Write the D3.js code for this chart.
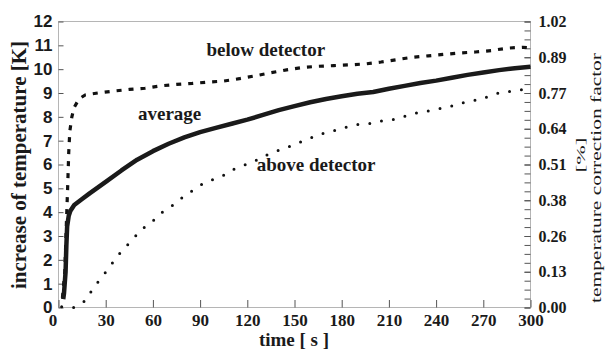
<!DOCTYPE html>
<html>
<head>
<meta charset="utf-8">
<script src="https://cdn.jsdelivr.net/npm/d3@7"></script>
<style>
  body { margin: 0; background: #fff; }
  .axis text { font-family: "Liberation Serif", "Times New Roman", serif; font-weight: bold; font-size: 17px; fill: #1a1a1a; }
  .axis--left text { font-family: "Liberation Sans", Arial, sans-serif; font-size: 17px; }
  .axis line { stroke: #555; }
  .title { font-family: "Liberation Serif", "Times New Roman", serif; font-weight: bold; fill: #1a1a1a; }
  .title.light { font-weight: normal; }
</style>
</head>
<body>
<svg id="chart" width="606" height="351"></svg>
<script>
// time [s] / temperature increase [K]
const avgT = [3, 3.5, 4.5, 5, 5.5, 6.5, 7.5, 10, 15, 20, 30, 40, 50, 60, 70, 80, 90, 100, 110, 120, 130, 140, 150, 160, 170, 180, 190, 200, 210, 220, 230, 240, 250, 260, 270, 280, 290, 300];
const avgV = [0.35, 0.6, 1.5, 2.6, 3.4, 3.85, 4.05, 4.3, 4.55, 4.8, 5.27, 5.75, 6.2, 6.56, 6.87, 7.14, 7.36, 7.54, 7.71, 7.88, 8.08, 8.28, 8.45, 8.61, 8.75, 8.86, 8.97, 9.04, 9.18, 9.3, 9.42, 9.52, 9.64, 9.76, 9.86, 9.96, 10.04, 10.1];

const belowT = [2.5, 4, 5, 5.8, 6.5, 7.2, 8.5, 10, 13, 17, 25, 35, 45, 55, 65, 75, 85, 95, 105, 115, 125, 135, 145, 155, 165, 175, 185, 195, 205, 215, 225, 235, 245, 255, 265, 275, 285, 295, 300];
const belowV = [0.4, 1.5, 3.5, 5.0, 6.5, 7.4, 8.0, 8.4, 8.75, 8.92, 9.0, 9.08, 9.15, 9.2, 9.3, 9.36, 9.4, 9.46, 9.5, 9.6, 9.72, 9.85, 9.97, 10.07, 10.12, 10.15, 10.18, 10.22, 10.3, 10.4, 10.5, 10.56, 10.62, 10.68, 10.72, 10.78, 10.88, 10.92, 10.9];

const aboveT = [2, 10, 17, 21, 26, 31, 36, 41, 47, 52, 59, 64, 71, 77, 84, 90, 97, 105, 111, 118, 125, 132, 140, 147, 154, 161, 168, 176, 183, 191, 199, 207, 214, 222, 230, 237, 245, 252, 260, 268, 274, 282, 290, 298];
const aboveV = [0.03, 0.0, 0.28, 0.7, 1.15, 1.57, 2.02, 2.44, 2.83, 3.25, 3.55, 3.92, 4.2, 4.53, 4.85, 5.13, 5.34, 5.55, 5.79, 5.97, 6.15, 6.39, 6.6, 6.76, 6.95, 7.13, 7.3, 7.43, 7.57, 7.69, 7.72, 7.86, 7.9, 8.06, 8.2, 8.27, 8.38, 8.48, 8.65, 8.72, 8.88, 9.05, 9.08, 9.18];

const xTicks = [0, 30, 60, 90, 120, 150, 180, 210, 240, 270, 300];
const yTicks = [0, 1, 2, 3, 4, 5, 6, 7, 8, 9, 10, 11, 12];
const rightTicks = [0.00, 0.1275, 0.255, 0.3825, 0.51, 0.6375, 0.765, 0.8925, 1.02];

const labels = [
    {text: 'below detector', t: 94, v: 10.55},
    {text: 'average', t: 50.5, v: 7.85},
    {text: 'above detector', t: 126, v: 5.72}
];

let svg = d3.select('#chart'),
    margin = {top: 21.5, right: 75.5, bottom: 43.5, left: 58.5},
    width = +svg.attr('width') - margin.left - margin.right,
    height = +svg.attr('height') - margin.top - margin.bottom;

let x = d3.scaleLinear().domain([0, 300]).range([0, width]),
    y = d3.scaleLinear().domain([0, 12]).range([height, 0]),
    yR = d3.scaleLinear().domain([0, 1.02]).range([height, 0]);

let g = svg.append('g')
    .attr('transform', 'translate(' + margin.left + ',' + margin.top + ')');

// frame
g.append('rect')
    .attr('width', width)
    .attr('height', height)
    .attr('fill', 'none')
    .attr('stroke', '#b5b5b5');

// left axis
let gl = g.append('g')
    .attr('class', 'axis axis--left')
    .call(d3.axisLeft(y).tickValues(yTicks).tickSize(-5).tickPadding(6));
gl.select('.domain').remove();

// bottom axis
let gb = g.append('g')
    .attr('class', 'axis axis--x')
    .attr('transform', 'translate(0,' + height + ')')
    .call(d3.axisBottom(x).tickValues(xTicks).tickSize(-7.5));
gb.select('.domain').remove();
gb.selectAll('text').attr('dy', null).attr('y', 18);
gb.selectAll('text').filter(d => d === 0).attr('dx', -6);

// right axis, minor then major
let minor = d3.range(0, 33).map(i => i * 1.02 / 32);
let gm = g.append('g')
    .attr('class', 'axis axis--right')
    .attr('transform', 'translate(' + width + ',0)')
    .call(d3.axisRight(yR).tickValues(minor).tickSize(-6).tickFormat(''));
gm.select('.domain').remove();
let gr = g.append('g')
    .attr('class', 'axis axis--right')
    .attr('transform', 'translate(' + width + ',0)')
    .call(d3.axisRight(yR).tickValues(rightTicks).tickSize(-6).tickPadding(8).tickFormat(d3.format('.2f')));
gr.select('.domain').remove();
gr.selectAll('text').style('font-size', '16px');

// series
let line = d3.line().x(d => x(d[0])).y(d => y(d[1]));

g.append('path')
    .datum(d3.zip(aboveT, aboveV))
    .attr('d', line)
    .attr('fill', 'none')
    .attr('stroke', '#111')
    .attr('stroke-width', 3)
    .attr('stroke-linecap', 'round')
    .attr('stroke-dasharray', '0 12');

g.append('path')
    .datum(d3.zip(belowT, belowV))
    .attr('d', line)
    .attr('fill', 'none')
    .attr('stroke', '#111')
    .attr('stroke-width', 3.2)
    .attr('stroke-dasharray', '5 7');

g.append('path')
    .datum(d3.zip(avgT, avgV))
    .attr('d', line)
    .attr('fill', 'none')
    .attr('stroke', '#1a1a1a')
    .attr('stroke-width', 4.5)
    .attr('stroke-linejoin', 'round');

// annotations
g.selectAll('.label')
    .data(labels)
    .enter()
    .append('text')
    .attr('class', 'title label')
    .attr('x', d => x(d.t))
    .attr('y', d => y(d.v))
    .attr('font-size', '19px')
    .text(d => d.text);

// axis titles
svg.append('text')
    .attr('class', 'title')
    .attr('transform', 'translate(26,165) rotate(-90)')
    .attr('text-anchor', 'middle')
    .attr('font-size', '21px')
    .text('increase of temperature [K]');

svg.append('text')
    .attr('class', 'title')
    .attr('x', 294)
    .attr('y', 346)
    .attr('text-anchor', 'middle')
    .attr('font-size', '19px')
    .text('time [ s ]');

svg.append('text')
    .attr('class', 'title light')
    .attr('transform', 'translate(601,178) rotate(-90)')
    .attr('text-anchor', 'middle')
    .attr('font-size', '15px')
    .attr('textLength', 250)
    .attr('lengthAdjust', 'spacingAndGlyphs')
    .text('temperature correction factor');

svg.append('text')
    .attr('class', 'title light')
    .attr('transform', 'translate(585,155) rotate(-90)')
    .attr('text-anchor', 'middle')
    .attr('font-size', '13px')
    .attr('textLength', 35)
    .attr('lengthAdjust', 'spacingAndGlyphs')
    .text('[%]');
</script>
</body>
</html>
